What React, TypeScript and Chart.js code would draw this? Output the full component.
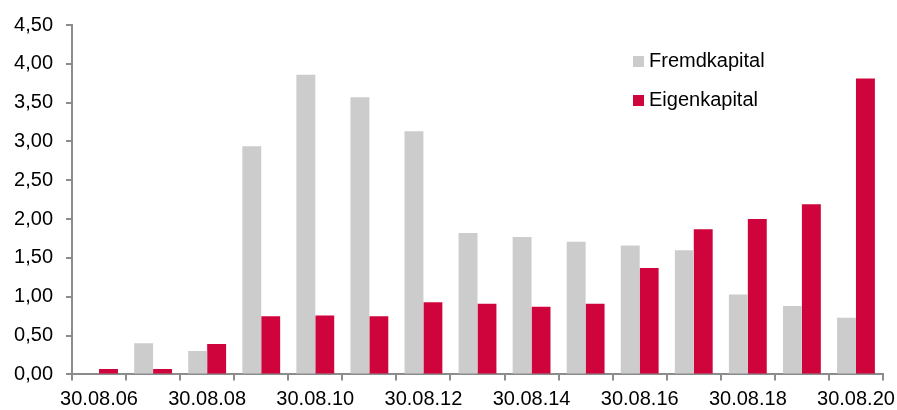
import React, { useEffect, useRef } from 'react';
import { Chart, registerables } from 'chart.js';

Chart.register(...registerables);

const categories = [
  '30.08.06', '30.08.07', '30.08.08', '30.08.09', '30.08.10', '30.08.11', '30.08.12', '30.08.13',
  '30.08.14', '30.08.15', '30.08.16', '30.08.17', '30.08.18', '30.08.19', '30.08.20',
];
const fremdkapital = [0, 0.4, 0.3, 2.94, 3.86, 3.57, 3.13, 1.82, 1.77, 1.71, 1.66, 1.6, 1.03, 0.88, 0.73];
const eigenkapital = [0.07, 0.07, 0.39, 0.75, 0.76, 0.75, 0.93, 0.91, 0.87, 0.91, 1.37, 1.87, 2.0, 2.19, 3.81];
const seriesNames = ['Fremdkapital', 'Eigenkapital'];

const yMin = 0;
const yMax = 4.5;
const yStep = 0.5;

const GREY = '#CCCCCC';
const RED = '#D0043C';
const AXIS = '#8c8c8c';
const FONT_FAMILY = "'Liberation Sans', Arial, sans-serif";

export default function App() {
  const ref = useRef<HTMLCanvasElement>(null);

  useEffect(() => {
    document.body.style.margin = '0';
    const font = { family: FONT_FAMILY, size: 20 };
    const chart = new Chart(ref.current!, {
      type: 'bar',
      data: {
        labels: categories,
        datasets: [
          { label: seriesNames[0], data: fremdkapital, backgroundColor: GREY, categoryPercentage: 0.7, barPercentage: 1, borderWidth: 0 },
          { label: seriesNames[1], data: eigenkapital, backgroundColor: RED, categoryPercentage: 0.7, barPercentage: 1, borderWidth: 0 },
        ],
      },
      options: {
        animation: false,
        responsive: false,
        layout: { padding: { top: 22, right: 14, left: 0, bottom: 0 } },
        plugins: { legend: { display: false }, tooltip: { enabled: false } },
        scales: {
          x: {
            offset: true,
            grid: { offset: true, drawOnChartArea: false, drawTicks: true, tickLength: 6, color: AXIS, lineWidth: 2 },
            border: { display: true, color: AXIS, width: 2 },
            ticks: {
              autoSkip: false,
              maxRotation: 0,
              minRotation: 0,
              padding: 7,
              color: '#000',
              font,
              callback: (_v: any, i: number) => (i % 2 === 0 ? categories[i] : ''),
            },
            afterFit: (s: any) => {
              s.height = 35.6;
              s.paddingLeft = 0;
              s.paddingRight = 0;
            },
          },
          y: {
            min: yMin,
            max: yMax,
            grid: { drawOnChartArea: false, drawTicks: true, tickLength: 6, color: AXIS, lineWidth: 2 },
            border: { display: true, color: AXIS, width: 2 },
            ticks: {
              stepSize: yStep,
              padding: 13,
              color: '#000',
              font,
              callback: (v: any) => Number(v).toFixed(2).replace('.', ','),
            },
            afterFit: (s: any) => {
              s.width = 72;
            },
          },
        },
      },
    });
    return () => chart.destroy();
  }, []);

  const legendItems = [
    { name: seriesNames[0], color: GREY, top: 48 },
    { name: seriesNames[1], color: RED, top: 87 },
  ];

  return (
    <div style={{ position: 'relative', width: 897, height: 410 }}>
      <canvas ref={ref} width={897} height={410} style={{ display: 'block' }} />
      {legendItems.map((it) => (
        <div
          key={it.name}
          style={{
            position: 'absolute',
            left: 633,
            top: it.top,
            height: 24,
            display: 'flex',
            alignItems: 'center',
            fontFamily: FONT_FAMILY,
            fontSize: 20,
            lineHeight: '24px',
            color: '#000',
            whiteSpace: 'nowrap',
          }}
        >
          <span style={{ display: 'inline-block', width: 11, height: 11, background: it.color, marginRight: 5, marginTop: 3 }} />
          <span>{it.name}</span>
        </div>
      ))}
    </div>
  );
}
